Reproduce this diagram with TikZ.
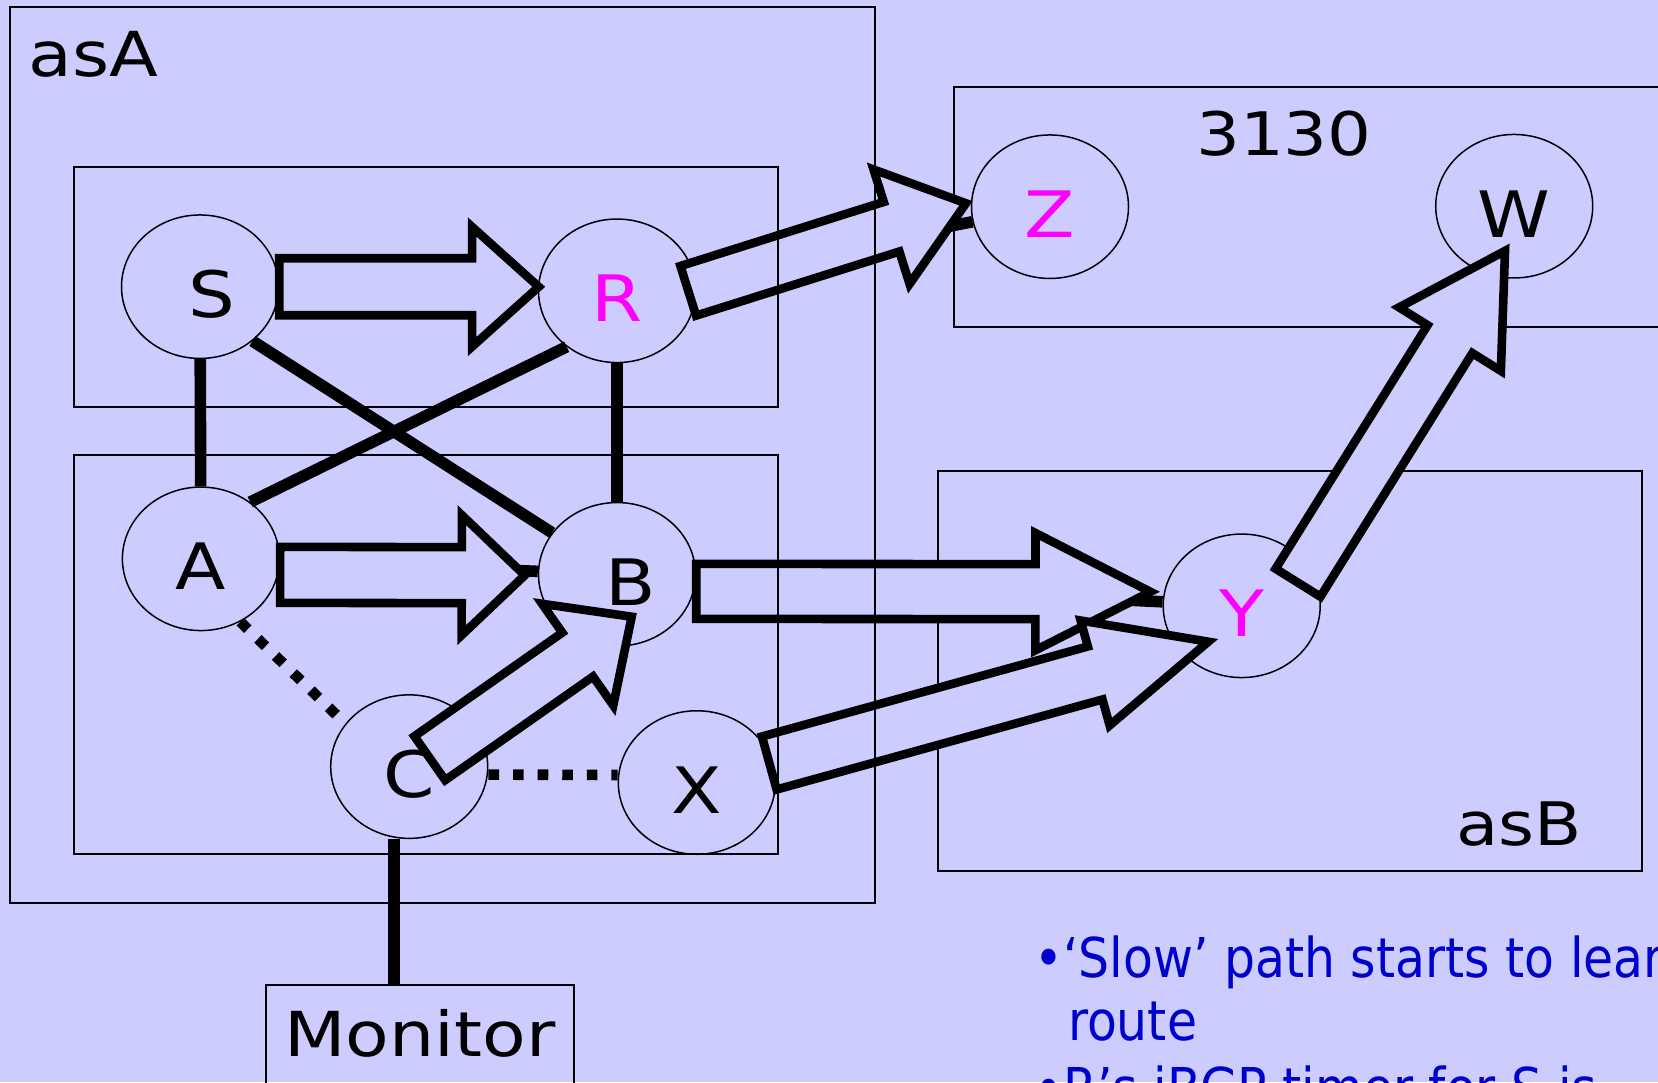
\documentclass[tikz,border=0pt]{standalone}
\usepackage{fontspec}
\usepackage{tikz}
\usetikzlibrary{calc,shapes.geometric}
\newfontfamily\labelfont[FakeStretch=1.15]{DejaVu Sans}
\newfontfamily\notefont[FakeStretch=0.89]{DejaVu Sans}
\definecolor{slidebg}{RGB}{204,204,255}
\definecolor{routerpink}{RGB}{255,0,255}
\definecolor{noteblue}{RGB}{0,0,204}
\tikzset{fatarrow/.style={draw,line width=4.3pt,line join=miter,fill=slidebg}}
% block arrow: tail, tip, shaft half width, head half width, head length
\newcommand\fatarrow[5]{%
  \coordinate (fa-s) at #1;
  \coordinate (fa-e) at #2;
  \coordinate (fa-h) at ($(fa-e)!#5!(fa-s)$);
  \draw[fatarrow] ($(fa-s)!#3!90:(fa-e)$) -- ($(fa-h)!#3!-90:(fa-s)$)
    -- ($(fa-h)!#4!-90:(fa-s)$) -- (fa-e) -- ($(fa-h)!#4!90:(fa-s)$)
    -- ($(fa-h)!#3!90:(fa-s)$) -- ($(fa-s)!#3!-90:(fa-e)$) -- cycle;
}
\begin{document}
\begin{tikzpicture}[x=0.5pt,y=-0.5pt,
  router/.style={ellipse,draw,line width=0.75pt,inner sep=0pt,minimum width=78.5pt,minimum height=71.75pt,
    text height=31pt,text depth=0pt,font=\labelfont\fontsize{32pt}{38pt}\selectfont},
  frame/.style={draw,line width=1pt},
  link/.style={line width=5.8pt},
  dotlink/.style={line width=5.3pt,dash pattern=on 5.3pt off 7pt},
  boxlabel/.style={inner sep=0pt,font=\labelfont\fontsize{30pt}{36pt}\selectfont},
  note/.style={inner sep=0pt,align=left,text=noteblue,font=\notefont\fontsize{27.45pt}{31.65pt}\selectfont}]
\fill[slidebg] (0,0) rectangle (1658,1082);
\useasboundingbox (0,0) rectangle (1658,1082);
% boxes under the arrows
\draw[frame] (954,86.7) rectangle (1665,326.7);
\draw[frame] (938,470.5) rectangle (1642,871);
% routers
\node[router] (S) at (200,286.7) {\hspace*{12pt}S};
\node[router,text=routerpink] (R) at (617,290.8) {R};
\node[router] (A) at (200.9,558.8) {A};
\node[router] (B) at (617,574.3) {\hspace*{14pt}B};
\node[router] (C) at (409.2,766.6) {C};
\node[router] (X) at (696.8,782.5) {X};
\node[router,text=routerpink] (Z) at (1050,206.7) {Z};
\node[router] (W) at (1514.2,206.2) {W};
\node[router,text=routerpink] (Y) at (1241.7,605.8) {Y};
\node[draw,line width=1pt,anchor=north,minimum width=154.2pt,inner xsep=0pt,inner ysep=12.85pt,
  text height=22.6pt,text depth=60pt,font=\labelfont\fontsize{31pt}{36pt}\selectfont] (mon) at (419.9,984.3) {Monitor};
% sessions
\draw[link] (S) -- (A);
\draw[link] (R) -- (B);
\draw[link] (S.-46) -- (B);
\draw[link] (A.49) -- (R.228);
\draw[link] (A) -- (B);
\draw[link] (R) -- (Z);
\draw[link] (B) -- (Y);
\coordinate (cfoot) at ($(C.south)+(-15,0)$);
\draw[link] (cfoot) -- (cfoot |- mon.north);
\draw[dotlink] (A.-58) -- (C.146);
\draw[dotlink] ($(C.east)+(0,8)$) -- ($(X.west)+(0,-7.5)$);
% route announcements
\fatarrow{(S.east)}{($(R.west)+(1,-4)$)}{14.25pt}{29.9pt}{33.3pt}
\fatarrow{($(A.east)+(0,16)$)}{($(B.west)+(-13,1)$)}{14pt}{30pt}{31.5pt}
\fatarrow{($(R.east)+(-8,0)$)}{($(Z.west)+(-4.8,-3.4)$)}{13pt}{30pt}{39pt}
\fatarrow{($(B.east)+(0,17)$)}{($(Y.west)+(-12,-14)$)}{13.75pt}{29.3pt}{57.5pt}
\fatarrow{($(X)+(72.5,-19.5)$)}{($(Y)+(-33.4,35.9)$)}{13.75pt}{27.2pt}{58.7pt}
\fatarrow{($(C)+(20.6,-8.4)$)}{($(B)+(14.7,42.4)$)}{13.4pt}{31pt}{33pt}
\fatarrow{($(Y)+(56.3,-23.1)$)}{($(W)+(-9.2,44.7)$)}{13.2pt}{30pt}{52pt}
% asA on top
\draw[frame] (9.5,7.4) rectangle (874.5,903);
\draw[frame] (74,167) rectangle (778,407);
\draw[frame] (74,455) rectangle (778,854.4);
\node[boxlabel,anchor=base west,font=\labelfont\fontsize{31pt}{36pt}\selectfont] (asA) at (28,76.7) {asA};
\node[boxlabel,anchor=base] (as3130) at (1284,155) {3130};
\node[boxlabel,anchor=base] (asB) at (1519,845) {asB};
\node[note,anchor=north west] (notes) at (1034,935) {•‘Slow’ path starts to learn\\
  \hspace*{16.8pt}route\\[1.7pt]
  •R’s iBGP timer for S is};
\end{tikzpicture}
\end{document}
